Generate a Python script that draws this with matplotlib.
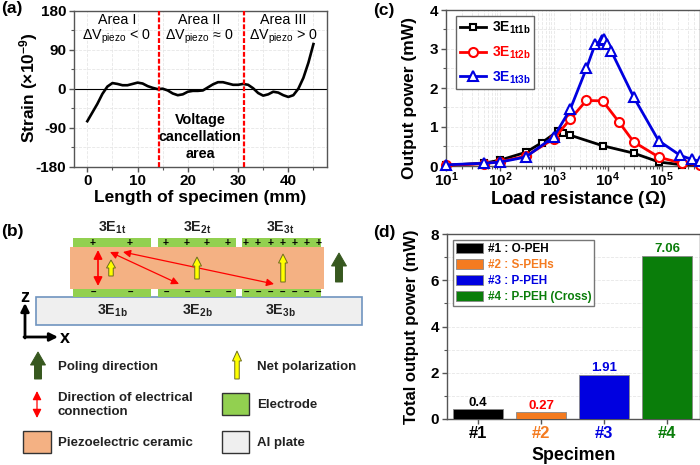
#!/usr/bin/env python3

import matplotlib
matplotlib.use("Agg")
import matplotlib.pyplot as plt
from matplotlib.patches import Rectangle, FancyArrow, FancyArrowPatch
from matplotlib.ticker import MultipleLocator, LogLocator, NullFormatter

plt.rcParams['font.family'] = ['Liberation Sans', 'DejaVu Sans']
plt.rcParams['mathtext.fontset'] = 'custom'
plt.rcParams['mathtext.rm'] = 'Liberation Sans'
plt.rcParams['mathtext.bf'] = 'Liberation Sans:bold'
plt.rcParams['mathtext.it'] = 'Liberation Sans:italic'
plt.rcParams['axes.linewidth'] = 1.0
plt.rcParams['axes.unicode_minus'] = False

W, H = 700, 465
EDGE = '#555555'

# (a) strain along specimen
length_mm = list(range(46))
strain = [-75, -55, -35, -12, 5, 13, 11, 8, 8, 11, 14, 12, 6, 2, -1, 0, -4, -11, -15, -13,
          -7, -5, -5, -4, 3, 10, 15, 15, 12, 9, 9, 11, 9, 1, -10, -16, -13, -7, -9, -15,
          -19, -15, 0, 25, 60, 103]
area_edges = [14.3, 31.1]

# (c) output power vs load resistance
r_1t1b = [10, 50, 100, 300, 600, 1200, 1500, 2000, 8000, 30000, 90000, 240000, 500000]
p_1t1b = [0.02, 0.07, 0.15, 0.35, 0.6, 0.9, 0.85, 0.79, 0.52, 0.33, 0.1, 0.03, 0.02]
r_1t2b = [10, 50, 100, 300, 1000, 2000, 4000, 8000, 16000, 30000, 90000, 240000, 500000]
p_1t2b = [0.02, 0.06, 0.11, 0.25, 0.7, 1.2, 1.68, 1.67, 1.13, 0.62, 0.22, 0.07, 0.03]
r_1t3b = [10, 50, 100, 300, 1000, 2000, 4000, 5800, 7700, 8500, 9600, 11500, 30000, 87000,
          220000, 360000, 500000]
p_1t3b = [0.03, 0.07, 0.1, 0.23, 0.75, 1.45, 2.5, 3.12, 3.22, 3.25, 3.12, 2.95, 1.77, 0.65,
          0.27, 0.17, 0.12]

# (d) total output power
specimens = ['#1', '#2', '#3', '#4']
total_power = [0.4, 0.27, 1.91, 7.06]
bar_labels = ['0.4', '0.27', '1.91', '7.06']
bar_colors = ['black', '#f47b20', '#0000e0', '#0a7d0a']
label_colors = ['black', 'red', '#0000e0', '#0a7d0a']
tick_colors = ['black', '#f47b20', '#0000e0', '#0a7d0a']
legend_names = ['#1 : O-PEH', '#2 : S-PEHs', '#3 : P-PEH', '#4 : P-PEH (Cross)']


def px_axes(fig, left, top, right, bottom):
    return fig.add_axes([left / W, 1 - bottom / H, (right - left) / W, (bottom - top) / H])


def style(ax):
    for s in ax.spines.values():
        s.set_color(EDGE)
    ax.grid(True, which='both', color='#e6e6e6', linestyle='--', linewidth=0.6)
    ax.set_axisbelow(True)
    ax.tick_params(which='major', length=3.5, width=1, color=EDGE, labelsize=11, pad=2)
    ax.tick_params(which='minor', length=2, width=0.8, color=EDGE)
    for t in ax.get_xticklabels() + ax.get_yticklabels():
        t.set_fontweight('bold')


fig = plt.figure(figsize=(7, 4.65), dpi=100)

# ---- panel a
ax = px_axes(fig, 74, 10.7, 327, 166.7)
ax.plot(length_mm, strain, color='black', lw=1.9, zorder=3)
ax.axhline(0, color='black', lw=0.8, zorder=2)
for e in area_edges:
    ax.axvline(e, color='red', lw=1.6, linestyle=(0, (2.2, 0.9)), zorder=4)
ax.set_xlim(-2.65, 47.7)
ax.set_ylim(-180, 180)
ax.xaxis.set_major_locator(MultipleLocator(10))
ax.xaxis.set_minor_locator(MultipleLocator(5))
ax.yaxis.set_major_locator(MultipleLocator(90))
ax.yaxis.set_minor_locator(MultipleLocator(45))
style(ax)
ax.set_xlabel('Length of specimen (mm)', fontsize=12.5, fontweight='bold', va='center')
ax.xaxis.set_label_coords(0.5, -0.2)
ax.set_ylabel(r'Strain ($\mathbf{\times 10^{-9}}$)', fontsize=12.5, fontweight='bold', va='center')
ax.yaxis.set_label_coords(-0.18, 0.51)
for x, name, rel in [(5.85, 'Area I', '<'), (22.2, 'Area II', '\u2248'), (39, 'Area III', '>')]:
    ax.text(x, 159, name, ha='center', va='center', fontsize=10.3)
    ax.text(x, 120, '\u0394V$_{\\mathrm{piezo}}$ ' + rel + ' 0', ha='center', va='center', fontsize=10.3)
ax.text(22.5, -111, 'Voltage\ncancellation\narea', ha='center', va='center', fontsize=10.4,
        fontweight='bold', linespacing=1.25)

# ---- panel c
ax = px_axes(fig, 446, 10, 700, 166)
ax.plot(r_1t1b, p_1t1b, color='black', lw=2.0, marker='s', ms=5, mfc='white', mew=1.5,
        label=r'$\mathbf{3E_{1t1b}}$', clip_on=False, zorder=3)
ax.plot(r_1t2b, p_1t2b, color='red', lw=2.0, marker='o', ms=6.5, mfc='white', mew=1.5,
        label=r'$\mathbf{3E_{1t2b}}$', clip_on=False, zorder=4)
ax.plot(r_1t3b, p_1t3b, color='#0000e0', lw=2.0, marker='^', ms=7, mfc='white', mew=1.5,
        label=r'$\mathbf{3E_{1t3b}}$', clip_on=False, zorder=5)
ax.set_xscale('log')
ax.set_xlim(10, 5.1e5)
ax.set_ylim(0, 4)
ax.xaxis.set_major_locator(LogLocator(base=10, numticks=8))
ax.xaxis.set_minor_locator(LogLocator(base=10, subs=range(2, 10), numticks=8))
ax.xaxis.set_minor_formatter(NullFormatter())
ax.yaxis.set_major_locator(MultipleLocator(1))
ax.yaxis.set_minor_locator(MultipleLocator(0.5))
style(ax)
ax.set_xticks([10, 100, 1000, 10000, 100000], [r'$\mathbf{10^{%d}}$' % i for i in range(1, 6)])
ax.tick_params(axis='x', which='major', pad=0)
ax.set_xlabel(r'Load resistance ($\mathbf{\Omega}$)', fontsize=13.5, fontweight='bold', va='center')
ax.xaxis.set_label_coords(0.52, -0.215)
ax.set_ylabel('Output power (mW)', fontsize=12.5, fontweight='bold', va='center')
ax.yaxis.set_label_coords(-0.142, 0.436)
leg = ax.legend(loc='upper left', bbox_to_anchor=(0.04, 0.96), borderaxespad=0, fontsize=10,
                frameon=True, fancybox=False, edgecolor='#666666', framealpha=1, handlelength=1.9,
                handletextpad=0.4, labelspacing=0.6, borderpad=0.25,
                labelcolor=['black', 'red', '#0000e0'])

# ---- panel d
ax = px_axes(fig, 446.7, 234.3, 700, 418.7)
xs = list(range(len(specimens)))
bars = ax.bar(xs, total_power, width=0.8, color=bar_colors, edgecolor='#888888', linewidth=0.6, zorder=3)
for x, v, s, c in zip(xs, total_power, bar_labels, label_colors):
    ax.text(x, v + 0.03, s, ha='center', va='bottom', color=c, fontsize=9.5, fontweight='bold')
ax.set_xlim(-0.5, 3.52)
ax.set_ylim(0, 8)
ax.yaxis.set_major_locator(MultipleLocator(2))
ax.yaxis.set_minor_locator(MultipleLocator(1))
style(ax)
ax.grid(False, axis='x', which='both')
ax.set_xticks(xs, specimens)
for t, c in zip(ax.get_xticklabels(), tick_colors):
    t.set_color(c)
    t.set_fontweight('bold')
    t.set_fontsize(12)
ax.set_xlabel('Specimen', fontsize=12.8, fontweight='bold', va='center')
ax.xaxis.set_label_coords(0.5, -0.197)
ax.set_ylabel('Total output power (mW)', fontsize=12, fontweight='bold', va='center')
ax.yaxis.set_label_coords(-0.138, 0.5)
leg = ax.legend(bars, legend_names, loc='upper left', bbox_to_anchor=(0.026, 0.969), borderaxespad=0,
                frameon=True, fancybox=False, edgecolor='#777777', framealpha=1,
                handlelength=2.3, handleheight=0.9, handletextpad=0.35, labelspacing=0.35, borderpad=0.25,
                prop={'weight': 'bold', 'size': 8.5}, labelcolor=tick_colors)
leg.set_zorder(6)

# ---- overlay in pixel coordinates: panel letters and schematic b
ov = fig.add_axes([0, 0, 1, 1], zorder=10)
ov.set_xlim(0, W)
ov.set_ylim(H, 0)
ov.axis('off')
ov.patch.set_alpha(0)

for s, x, y in [('(a)', 1, 9), ('(c)', 373, 10), ('(b)', 1, 231), ('(d)', 373, 232)]:
    ov.text(x, y, s, fontsize=12.5, fontweight='bold', ha='left', va='center')

GREEN = '#92d050'
CERAMIC = '#f4b183'
PLATE = '#efefef'
PLATE_EDGE = '#6f94bf'
DARK = '#37581f'
YELLOW = '#ffff00'

ov.add_patch(Rectangle((36, 296.7), 325.7, 28.3, fc=PLATE, ec=PLATE_EDGE, lw=1.2))
ov.add_patch(Rectangle((70, 247), 254, 41.7, fc=CERAMIC, ec='none', zorder=2))
for x0, x1, n_signs in [(73, 151, 2), (157.7, 236.3, 4), (242, 320.7, 7)]:
    ov.add_patch(Rectangle((x0, 238.3), x1 - x0, 8.7, fc=GREEN, ec='none'))
    ov.add_patch(Rectangle((x0, 288.7), x1 - x0, 7.8, fc=GREEN, ec='none'))
    if n_signs == 2:
        sx = [93, 130]
    elif n_signs == 4:
        sx = [166, 187, 207, 228]
    else:
        sx = [246 + i * 12.1 for i in range(7)]
    for x in sx:
        ov.text(x, 242.5, '+', ha='center', va='center', fontsize=7.5, fontweight='bold')
        ov.text(x, 292.5, '\u2013', ha='center', va='center', fontsize=7, fontweight='bold')

for x, y, s in [(112, 228, r'3E$_{\mathbf{1t}}$'), (197, 228, r'3E$_{\mathbf{2t}}$'), (280, 228, r'3E$_{\mathbf{3t}}$'),
                (112, 311, r'3E$_{\mathbf{1b}}$'), (197, 311, r'3E$_{\mathbf{2b}}$'), (280, 311, r'3E$_{\mathbf{3b}}$')]:
    ov.text(x, y, s, ha='center', va='center', fontsize=10.3, fontweight='bold', color='#222222')


def arrow2(p0, p1, lw=0.9, ms=11):
    ov.add_patch(FancyArrowPatch(p0, p1, arrowstyle='<|-|>', mutation_scale=ms, color='red', lw=lw,
                                 shrinkA=0, shrinkB=0, zorder=4))


def block_arrow(x, y0, y1, fc, ec, width, head_w, head_l):
    ov.add_patch(FancyArrow(x, y0, 0, y1 - y0, width=width, head_width=head_w, head_length=head_l,
                            length_includes_head=True, fc=fc, ec=ec, lw=0.7, zorder=5))


arrow2((98, 250), (98, 286), lw=1.2, ms=13)
arrow2((110, 252), (179, 284))
arrow2((123, 252), (274, 284))
block_arrow(111, 276, 260, YELLOW, '#6b6b20', 4.5, 9, 8)
block_arrow(197, 279, 257, YELLOW, '#6b6b20', 4.5, 9, 9)
block_arrow(283, 282, 254, YELLOW, '#6b6b20', 4.5, 9, 9)
block_arrow(339, 282, 253, DARK, DARK, 7, 15, 13)

# xz axes
ov.annotate('', xy=(25, 303), xytext=(25, 338), arrowprops=dict(arrowstyle='-|>', color='black', lw=2, mutation_scale=12, shrinkA=0, shrinkB=0))
ov.annotate('', xy=(58, 337), xytext=(24, 337), arrowprops=dict(arrowstyle='-|>', color='black', lw=2, mutation_scale=12, shrinkA=0, shrinkB=0))
ov.text(25, 297, 'z', ha='center', va='center', fontsize=13, fontweight='bold')
ov.text(65, 338, 'x', ha='center', va='center', fontsize=13, fontweight='bold')

# schematic key
KEY = 9.5
block_arrow(38, 379, 352, DARK, DARK, 7, 15, 13)
ov.text(58, 367, 'Poling direction', fontsize=KEY, fontweight='bold', va='center', color='#222222')
arrow2((37, 391), (37, 418), lw=0.9, ms=13)
ov.text(58, 405, 'Direction of electrical\nconnection', fontsize=KEY, fontweight='bold', va='center', color='#222222', linespacing=1.2)
ov.add_patch(Rectangle((23, 431), 28, 22, fc=CERAMIC, ec='#333333', lw=1))
ov.text(58, 443, 'Piezoelectric ceramic', fontsize=KEY, fontweight='bold', va='center', color='#222222')
block_arrow(237, 379, 351, YELLOW, '#6b6b20', 4.5, 9, 10)
ov.text(257, 367, 'Net polarization', fontsize=KEY, fontweight='bold', va='center', color='#222222')
ov.add_patch(Rectangle((222, 393), 27, 22, fc=GREEN, ec='#333333', lw=1))
ov.text(257, 405, 'Electrode', fontsize=KEY, fontweight='bold', va='center', color='#222222')
ov.add_patch(Rectangle((222, 431), 27, 22, fc=PLATE, ec='#333333', lw=1))
ov.text(257, 443, 'Al plate', fontsize=KEY, fontweight='bold', va='center', color='#222222')

fig.savefig('out.png', dpi=100)
